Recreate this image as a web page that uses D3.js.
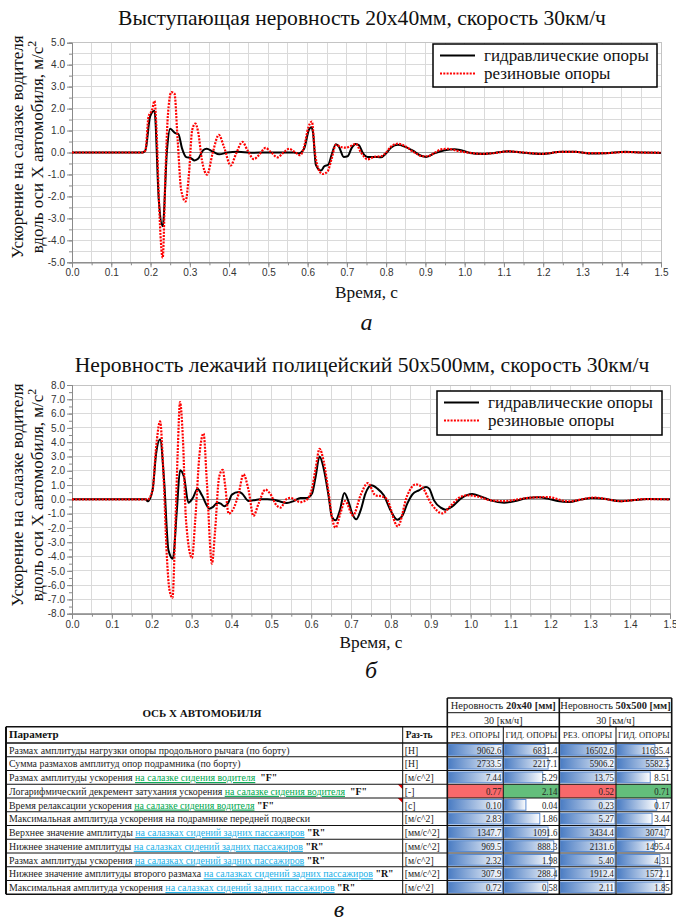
<!DOCTYPE html>
<html><head><meta charset="utf-8">
<script src="https://cdn.jsdelivr.net/npm/d3@7"></script>
<style>body{margin:0;background:#fff}svg{display:block}</style>
</head><body>
<svg id="fig" width="676" height="921"></svg>
<script>
// ---- time axis ----
const timeTicks = d3.range(0, 16).map(i => i / 10);
const timeMinor = d3.range(0, 31).map(i => i / 20);
const legendLabels = ["гидравлические опоры", "резиновые опоры"];

// ---- bump 20x40 mm, 30 km/h: [time s, acceleration m/s^2] ----
const bumpHydraulic = [[0,0],[0.18,0],[0.187,0.1],[0.199,1.64],[0.21,1.9],[0.221,-2.15],[0.231,-3.36],[0.242,0.12],[0.25,1.08],[0.263,0.88],[0.271,0.84],[0.28,0.2],[0.291,-0.21],[0.302,-0.25],[0.312,-0.36],[0.321,-0.29],[0.334,0.1],[0.343,0.17],[0.358,0.05],[0.375,-0.08],[0.396,0],[0.422,0.03],[0.456,-0.01],[0.5,0],[0.565,0],[0.578,-0.04],[0.591,0.17],[0.604,1.06],[0.61,1.15],[0.614,0.88],[0.621,-0.56],[0.634,-0.82],[0.642,-0.64],[0.653,-0.55],[0.661,-0.12],[0.672,0.38],[0.68,0.25],[0.692,-0.2],[0.702,-0.17],[0.712,0.2],[0.723,0.39],[0.731,0.33],[0.74,0],[0.753,-0.2],[0.77,-0.2],[0.787,-0.22],[0.8,-0.04],[0.813,0.23],[0.83,0.35],[0.847,0.27],[0.868,0.08],[0.889,-0.15],[0.902,-0.2],[0.923,-0.04],[0.949,0.1],[0.974,0.15],[0.991,0.1],[1.012,-0.01],[1.043,-0.07],[1.068,-0.04],[1.111,0.06],[1.145,0],[1.196,-0.07],[1.247,0.03],[1.281,0.03],[1.315,-0.04],[1.358,-0.03],[1.409,0.03],[1.452,0],[1.5,-0.02]];
const bumpRubber = [[0,0],[0.18,0],[0.187,0.1],[0.195,1.64],[0.204,1.94],[0.21,2.35],[0.216,0.73],[0.222,-2.45],[0.231,-4.8],[0.238,-0.94],[0.244,1.64],[0.253,2.75],[0.261,2.68],[0.269,0.58],[0.278,-1.7],[0.289,-2.23],[0.298,-0.94],[0.306,1.02],[0.314,1.32],[0.321,0.96],[0.331,-0.36],[0.344,-1.01],[0.358,-0.04],[0.374,0.8],[0.387,0.26],[0.404,-0.59],[0.418,-0.05],[0.434,0.48],[0.447,0.1],[0.463,-0.3],[0.476,-0.12],[0.493,0.21],[0.506,0.03],[0.523,-0.22],[0.538,-0.02],[0.553,0.17],[0.565,0.05],[0.581,-0.12],[0.591,0.25],[0.602,1.15],[0.611,1.41],[0.618,0.1],[0.627,-0.73],[0.638,-0.98],[0.651,-0.86],[0.661,-0.3],[0.672,0.35],[0.685,0.25],[0.698,0.22],[0.71,0.3],[0.723,0.39],[0.736,0],[0.753,-0.31],[0.77,-0.2],[0.787,-0.17],[0.8,0],[0.813,0.28],[0.83,0.4],[0.847,0.3],[0.872,0],[0.893,-0.17],[0.906,-0.17],[0.923,-0.02],[0.94,0.14],[0.957,0.17],[0.983,0.07],[1.01,-0.01],[1.043,-0.06],[1.068,-0.04],[1.111,0.05],[1.145,0.01],[1.196,-0.06],[1.247,0.03],[1.281,0.03],[1.315,-0.03],[1.358,-0.03],[1.409,0.02],[1.452,0],[1.5,-0.01]];

// ---- speed hump 50x500 mm, 30 km/h ----
const humpHydraulic = [[0,0],[0.185,0],[0.19,-0.14],[0.202,0.63],[0.211,3.2],[0.221,4.2],[0.231,1.33],[0.242,-3.57],[0.253,-4.15],[0.263,-0.77],[0.271,2.03],[0.281,1.56],[0.292,-0.23],[0.303,0.09],[0.315,0.75],[0.326,0.28],[0.345,-0.65],[0.353,-0.54],[0.365,-0.23],[0.373,-0.3],[0.382,-0.49],[0.393,-0.19],[0.401,0.33],[0.418,0.51],[0.426,0.42],[0.443,-0.12],[0.455,-0.07],[0.472,0],[0.49,0],[0.506,-0.02],[0.518,-0.12],[0.539,-0.26],[0.556,-0.12],[0.573,0.09],[0.59,0.1],[0.602,0.4],[0.611,1.56],[0.621,3.0],[0.631,2.2],[0.644,0.16],[0.652,-1.24],[0.661,-1.47],[0.672,-0.77],[0.683,0.44],[0.694,-0.19],[0.703,-1.0],[0.713,-1.4],[0.724,-0.77],[0.736,0.4],[0.751,0.98],[0.766,0.75],[0.782,0.28],[0.799,-0.77],[0.816,-1.42],[0.829,-1.12],[0.841,-0.3],[0.854,0.35],[0.87,0.63],[0.888,0.86],[0.896,0.75],[0.908,-0.07],[0.925,-0.58],[0.937,-0.72],[0.954,-0.49],[0.975,0.05],[1.004,0.37],[1.025,0.21],[1.05,-0.07],[1.084,-0.23],[1.109,-0.14],[1.142,0.09],[1.168,0.14],[1.193,0.05],[1.218,-0.12],[1.247,-0.19],[1.276,-0.02],[1.306,0.09],[1.335,0.05],[1.377,-0.14],[1.411,-0.05],[1.444,0.02],[1.5,0]];
const humpRubber = [[0,0],[0.19,0],[0.202,0.63],[0.211,3.66],[0.221,5.45],[0.229,2.03],[0.238,-4.03],[0.244,-6.25],[0.252,-6.9],[0.259,-2.0],[0.265,3.2],[0.271,6.8],[0.278,4.35],[0.286,-1.48],[0.301,-4.1],[0.309,-1.48],[0.32,3.2],[0.33,4.6],[0.338,1.35],[0.351,-4.5],[0.359,-2.17],[0.369,1.56],[0.378,2.07],[0.384,1.0],[0.393,-1.0],[0.405,-0.65],[0.418,0.4],[0.43,1.75],[0.443,0.63],[0.455,-1.16],[0.468,-0.3],[0.485,0.68],[0.497,0.4],[0.513,-0.42],[0.523,-0.58],[0.539,0.05],[0.548,0.1],[0.56,-0.05],[0.573,-0.19],[0.59,0],[0.602,0.75],[0.611,2.14],[0.621,3.53],[0.631,2.7],[0.644,0.4],[0.652,-1.24],[0.661,-1.98],[0.673,-1.0],[0.685,-0.12],[0.705,-1.12],[0.724,0.3],[0.742,1.14],[0.761,0.28],[0.778,0.2],[0.79,0],[0.817,-1.89],[0.841,0.28],[0.862,1.05],[0.878,0.86],[0.901,-0.3],[0.929,-0.98],[0.95,-0.45],[0.971,0.12],[0.992,0.28],[1.02,0.18],[1.05,-0.07],[1.084,-0.12],[1.14,0.09],[1.193,0.16],[1.243,-0.14],[1.31,0.12],[1.377,-0.12],[1.44,0.02],[1.5,0]];

// ---- table ----
const paramNames = [
  [["Размах амплитуды нагрузки опоры продольного рычага (по борту)","p"]],
  [["Сумма размахов амплитуд опор подрамника (по борту)","p"]],
  [["Размах амплитуды ускорения ","p"],["на салазке сидения водителя","g"],["  ","p"],["\"F\"","b"]],
  [["Логарифмический декремент затухания ускорения ","p"],["на салазке сидения водителя","g"],["  ","p"],["\"F\"","b"]],
  [["Время релаксации ускорения ","p"],["на салазке сидения водителя","g"],[" ","p"],["\"F\"","b"]],
  [["Максимальная амплитуда ускорения на подрамнике передней подвески","p"]],
  [["Верхнее значение амплитуды ","p"],["на салазках сидений задних пассажиров","c"],[" ","p"],["\"R\"","b"]],
  [["Нижнее значение амплитуды ","p"],["на салазках сидений задних пассажиров","c"],[" ","p"],["\"R\"","b"]],
  [["Размах амплитуды ускорения ","p"],["на салазках сидений задних пассажиров","c"],[" ","p"],["\"R\"","b"]],
  [["Нижнее значение амплитуды второго размаха ","p"],["на салазках сидений задних пассажиров","c"],[" ","p"],["\"R\"","b"]],
  [["Максимальная амплитуда ускорения ","p"],["на салазках сидений задних пассажиров","c"],[" ","p"],["\"R\"","b"]]
];
const paramUnits = ["[Н]","[Н]","[м/с^2]","[-]","[с]","[м/с^2]","[мм/с^2]","[мм/с^2]","[м/с^2]","[мм/с^2]","[м/с^2]"];
const rubber20x40 = [9062.6, 2733.5, 7.44, 0.77, 0.10, 2.83, 1347.7, 969.5, 2.32, 307.9, 0.72];
const hydraulic20x40 = [6831.4, 2217.1, 5.29, 2.14, 0.04, 1.86, 1091.6, 888.3, 1.98, 288.4, 0.58];
const rubber50x500 = [16502.6, 5906.2, 13.75, 0.52, 0.23, 5.27, 3434.4, 2131.6, 5.40, 1912.4, 2.11];
const hydraulic50x500 = [11635.4, 5582.5, 8.51, 0.71, 0.17, 3.44, 3074.7, 1495.4, 4.31, 1572.1, 1.85];
const caseTitles = [["Неровность ","20х40 [мм]"],["Неровность ","50х500 [мм]"]];
const speedLabel = "30 [км/ч]";
const supportLabels = ["РЕЗ. ОПОРЫ","ГИД. ОПОРЫ","РЕЗ. ОПОРЫ","ГИД. ОПОРЫ"];
const colorCodedRow = 3;

const SERIF = "'Liberation Serif','Times New Roman',serif";
const SANS = "'Liberation Sans',Arial,sans-serif";

const fig = d3.select("#fig");
fig.append("rect").attr("width", 676).attr("height", 921).attr("fill", "#fff");

const defs = fig.append("defs");
const grad = defs.append("linearGradient").attr("id", "barGrad");
grad.append("stop").attr("offset", "0%").attr("stop-color", "#4a7cc3");
grad.append("stop").attr("offset", "100%").attr("stop-color", "#ffffff");

// text placed at (x, y) and stretched horizontally by sx
function wideText(parent, x, y, sx) {
  return parent.append("text").attr("transform", `translate(${x},${y}) scale(${sx},1)`);
}

function drawChart(o) {
  const g = fig.append("g");
  const x = d3.scaleLinear().domain([0, 1.5]).range([o.left, o.right]);
  const y = d3.scaleLinear().domain([o.yMin, o.yMax]).range([o.bottom, o.top]);

  // grid
  g.append("g").selectAll("line").data(timeMinor).join("line")
    .attr("x1", d => x(d)).attr("x2", d => x(d))
    .attr("y1", o.top).attr("y2", o.bottom)
    .attr("stroke", "#dadada").attr("shape-rendering", "crispEdges");
  const yGrid = d3.range(0, Math.round((o.yMax - o.yMin) / o.gridStep) + 1).map(i => o.yMin + i * o.gridStep);
  g.append("g").selectAll("line").data(yGrid).join("line")
    .attr("x1", o.left).attr("x2", o.right)
    .attr("y1", d => y(d)).attr("y2", d => y(d))
    .attr("stroke", "#dadada").attr("shape-rendering", "crispEdges");
  g.append("rect").attr("x", o.left).attr("y", o.top)
    .attr("width", o.right - o.left).attr("height", o.bottom - o.top)
    .attr("fill", "none").attr("stroke", "#c4c4c4").attr("shape-rendering", "crispEdges");
  g.append("line").attr("x1", o.left).attr("x2", o.right)
    .attr("y1", y(0)).attr("y2", y(0)).attr("stroke", "#9a9a9a").attr("shape-rendering", "crispEdges");

  // axes
  const yMajor = d3.range(0, o.yMax - o.yMin + 1).map(i => o.yMin + i);
  const yMinor = d3.range(0, (o.yMax - o.yMin) * 2 + 1).map(i => o.yMin + i / 2);
  const ya = g.append("g").attr("transform", `translate(${o.left},0)`)
    .call(d3.axisLeft(y).tickValues(yMajor).tickSize(5).tickPadding(2).tickFormat(d => d.toFixed(1)));
  const yb = g.append("g").attr("transform", `translate(${o.left},0)`)
    .call(d3.axisLeft(y).tickValues(yMinor).tickSize(3).tickFormat(""));
  const xa = g.append("g").attr("transform", `translate(0,${o.bottom})`)
    .call(d3.axisBottom(x).tickValues(timeTicks).tickSize(5).tickPadding(2).tickFormat(d => d.toFixed(1)));
  const xb = g.append("g").attr("transform", `translate(0,${o.bottom})`)
    .call(d3.axisBottom(x).tickValues(timeMinor).tickSize(3).tickFormat(""));
  [ya, yb, xa, xb].forEach(a => {
    a.selectAll("path").attr("stroke", "#8a8a8a");
    a.selectAll("line").attr("stroke", "#8a8a8a");
    a.selectAll("text").attr("font-family", SANS).attr("font-size", 10).attr("fill", "#333");
  });

  // curves
  const line = d3.line().x(d => x(d[0])).y(d => y(d[1])).curve(d3.curveMonotoneX);
  g.append("path").datum(o.hydraulic).attr("d", line)
    .attr("fill", "none").attr("stroke", "#000").attr("stroke-width", 2).attr("stroke-linejoin", "round");
  g.append("path").datum(o.rubber).attr("d", line)
    .attr("fill", "none").attr("stroke", "#ff0000").attr("stroke-width", 2.2).attr("stroke-dasharray", "2,1.3");

  // legend
  const L = o.legend;
  g.append("rect").attr("x", L.x).attr("y", L.y).attr("width", L.w).attr("height", L.h)
    .attr("fill", "#fff").attr("stroke", "#000").attr("stroke-width", 1.5);
  const styles = [{c: "#000", w: 2, d: null}, {c: "#ff0000", w: 2.2, d: "2,1.3"}];
  legendLabels.forEach((t, i) => {
    const cy = L.y + 11.5 + i * 18;
    g.append("line").attr("x1", L.x + 7).attr("x2", L.x + 42).attr("y1", cy).attr("y2", cy)
      .attr("stroke", styles[i].c).attr("stroke-width", styles[i].w).attr("stroke-dasharray", styles[i].d);
    wideText(g, L.x + 51, cy + 5, 1.06).text(t)
      .attr("font-family", SERIF).attr("font-size", 16).attr("fill", "#111");
  });

  // titles
  wideText(g, 362, o.titleY, 1.08).attr("text-anchor", "middle")
    .attr("font-family", SERIF).attr("font-size", 20).attr("fill", "#111").text(o.title);
  const cx = (o.left + o.right) / 2;
  wideText(g, cx, o.xLabelY, 1.08).attr("text-anchor", "middle")
    .attr("font-family", SERIF).attr("font-size", 16).attr("fill", "#111").text("Время, с");
  g.append("text").attr("x", cx).attr("y", o.letterY).attr("text-anchor", "middle")
    .attr("font-family", SERIF).attr("font-style", "italic").attr("font-size", 24).attr("fill", "#111").text(o.letter);
  const cyl = o.yLabelCenter;
  g.append("text").attr("transform", `translate(23,${cyl}) rotate(-90)`).attr("text-anchor", "middle")
    .attr("font-family", SERIF).attr("font-size", 17).attr("fill", "#111").text("Ускорение на салазке водителя");
  const t2 = g.append("text").attr("transform", `translate(43,${cyl}) rotate(-90)`).attr("text-anchor", "middle")
    .attr("font-family", SERIF).attr("font-size", 17).attr("fill", "#111");
  t2.append("tspan").text("вдоль оси X автомобиля, м/с");
  t2.append("tspan").attr("dy", -7).attr("font-size", 12).text("2");
}

drawChart({
  title: "Выступающая неровность 20х40мм, скорость 30км/ч", titleY: 25,
  left: 72, right: 661, top: 42.7, bottom: 262.3, yMin: -5, yMax: 5, gridStep: 0.5,
  hydraulic: bumpHydraulic, rubber: bumpRubber,
  legend: {x: 433, y: 44, w: 224, h: 43},
  xLabelY: 298, letterY: 330, letter: "а", yLabelCenter: 147
});
drawChart({
  title: "Неровность лежачий полицейский 50х500мм, скорость 30км/ч", titleY: 372,
  left: 72, right: 670, top: 385, bottom: 613.7, yMin: -8, yMax: 8, gridStep: 1,
  hydraulic: humpHydraulic, rubber: humpRubber,
  legend: {x: 437, y: 391, w: 225, h: 44},
  xLabelY: 648, letterY: 678, letter: "б", yLabelCenter: 495
});

// ---- parameter table ----
const T = fig.append("g");
const colX = [6, 402.7, 447.3, 503.3, 559.3, 616, 671.7];
const hdrY = [698, 712.7, 726.7, 743];
const rowH = 13.75;
const rowTop = i => hdrY[3] + i * rowH;
const tableBottom = rowTop(paramNames.length);
const valueCols = [rubber20x40, hydraulic20x40, rubber50x500, hydraulic50x500];
const fmt = v => v >= 100 ? v.toFixed(1) : v.toFixed(2);
const segColor = {p: "#222", g: "#00a84f", c: "#1ab0e8", b: "#111"};

// cells: data bars, colour-coded cells and values
paramNames.forEach((_, r) => {
  [[0, 1], [2, 3]].forEach(([a, b]) => {
    const m = Math.max(valueCols[a][r], valueCols[b][r]);
    [a, b].forEach(c => {
      const v = valueCols[c][r];
      const x0 = colX[c + 2], x1 = colX[c + 3];
      if (r === colorCodedRow) {
        T.append("rect").attr("x", x0).attr("y", rowTop(r)).attr("width", x1 - x0).attr("height", rowH)
          .attr("fill", v === m ? "#63be7b" : "#f8696b");
      } else {
        const w = (x1 - x0 - 2) * v / m;
        T.append("rect").attr("x", x0 + 1).attr("y", rowTop(r) + 1.5).attr("width", w).attr("height", rowH - 3)
          .attr("fill", "url(#barGrad)").attr("stroke", "#5a8ad0").attr("stroke-width", 1);
      }
      wideText(T, x1 - 2, rowTop(r) + 10.5, 0.8).attr("text-anchor", "end")
        .attr("font-family", SERIF).attr("font-size", 11).attr("fill", "#222").text(fmt(v));
    });
  });
  // parameter text
  const t = wideText(T, 9, rowTop(r) + 10.5, 0.9).attr("font-family", SERIF).attr("font-size", 11);
  paramNames[r].forEach(([s, k]) => {
    t.append("tspan").text(s).attr("fill", segColor[k])
      .attr("font-weight", k === "b" ? "bold" : null)
      .attr("text-decoration", k === "g" || k === "c" ? "underline" : null)
      .attr("xml:space", "preserve");
  });
  wideText(T, colX[1] + 2, rowTop(r) + 10.5, 0.88)
    .attr("font-family", SERIF).attr("font-size", 11).attr("fill", "#222").text(paramUnits[r]);
});

// comment markers
[3, 4].forEach(r => {
  const xr = colX[1], yt = rowTop(r);
  T.append("path").attr("d", `M${xr - 5},${yt}L${xr},${yt}L${xr},${yt + 5}Z`).attr("fill", "#e00000");
});

// header texts
T.append("text").attr("x", 202).attr("y", 717).attr("text-anchor", "middle")
  .attr("font-family", SERIF).attr("font-weight", "bold").attr("font-size", 11).attr("fill", "#111").text("ОСЬ Х АВТОМОБИЛЯ");
caseTitles.forEach((ct, i) => {
  const x0 = colX[2 + 2 * i], x1 = colX[4 + 2 * i];
  const t = wideText(T, (x0 + x1) / 2, hdrY[0] + 11, 0.95).attr("text-anchor", "middle")
    .attr("font-family", SERIF).attr("font-size", 11).attr("fill", "#222");
  t.append("tspan").text(ct[0]);
  t.append("tspan").attr("font-weight", "bold").text(ct[1]);
  wideText(T, (x0 + x1) / 2, hdrY[1] + 11, 0.92).attr("text-anchor", "middle")
    .attr("font-family", SERIF).attr("font-size", 11).attr("fill", "#222").text(speedLabel);
});
supportLabels.forEach((s, i) => {
  T.append("text").attr("x", (colX[2 + i] + colX[3 + i]) / 2).attr("y", hdrY[2] + 11).attr("text-anchor", "middle")
    .attr("font-family", SERIF).attr("font-size", 8.5).attr("fill", "#222").text(s);
});
T.append("text").attr("x", 9).attr("y", hdrY[2] + 11.5).attr("font-family", SERIF).attr("font-weight", "bold")
  .attr("font-size", 11).attr("fill", "#111").text("Параметр");
wideText(T, colX[1] + 3, hdrY[2] + 11.5, 0.85).attr("font-family", SERIF).attr("font-weight", "bold")
  .attr("font-size", 11).attr("fill", "#111").text("Раз-ть");

// table rules
const hl = (x0, x1, yy, w) => T.append("line").attr("x1", x0).attr("x2", x1).attr("y1", yy).attr("y2", yy)
  .attr("stroke", "#111").attr("stroke-width", w);
const vl = (xx, y0, y1, w) => T.append("line").attr("x1", xx).attr("x2", xx).attr("y1", y0).attr("y2", y1)
  .attr("stroke", "#111").attr("stroke-width", w);
hl(colX[2], colX[6], hdrY[0], 1.6);
hl(colX[2], colX[6], hdrY[1], 1);
hl(colX[0], colX[6], hdrY[2], 1.6);
hl(colX[0], colX[6], hdrY[3], 1.6);
paramNames.forEach((_, r) => { if (r > 0) hl(colX[0], colX[6], rowTop(r), 1); });
hl(colX[0], colX[6], tableBottom, 1.6);
vl(colX[0], hdrY[2], tableBottom, 2);
vl(colX[1], hdrY[2], tableBottom, 1);
vl(colX[2], hdrY[0], tableBottom, 1.6);
vl(colX[3], hdrY[2], tableBottom, 1);
vl(colX[4], hdrY[0], tableBottom, 1.6);
vl(colX[5], hdrY[2], tableBottom, 1);
vl(colX[6], hdrY[0], tableBottom, 1.6);

T.append("text").attr("x", 339).attr("y", 917).attr("text-anchor", "middle")
  .attr("font-family", SERIF).attr("font-style", "italic").attr("font-size", 24).attr("fill", "#111").text("в");
</script></body></html>
